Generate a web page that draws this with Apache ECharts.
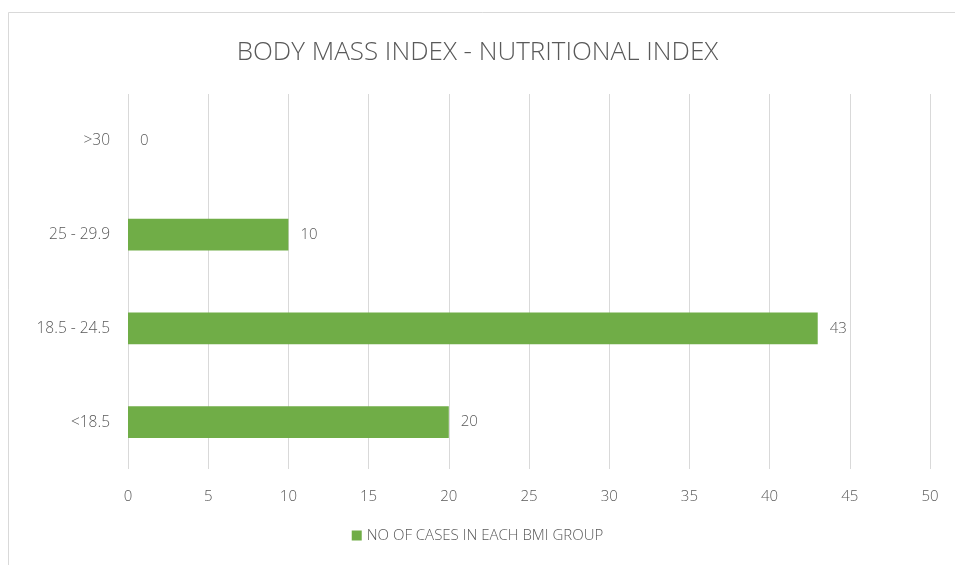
<!DOCTYPE html>
<html>
<head>
<meta charset="utf-8">
<script src="https://cdn.jsdelivr.net/npm/echarts@6/dist/echarts.min.js"></script>
<style>
  html, body { margin: 0; padding: 0; background: #fff; }
  #chart { width: 955px; height: 565px; }
</style>
</head>
<body>
<div id="chart"></div>
<script>
// BMI groups, listed bottom to top
const categories = ['<18.5', '18.5 - 24.5', '25 - 29.9', '>30'];
const cases = [20, 43, 10, 0];
const seriesName = 'NO OF CASES IN EACH BMI GROUP';
const chartTitle = 'BODY MASS INDEX - NUTRITIONAL INDEX';

const textGrey = '#595959';
const fontFamily = '"Open Sans", "Noto Sans", sans-serif';

const chart = echarts.init(document.getElementById('chart'), null, { renderer: 'canvas' });

chart.setOption({
  backgroundColor: '#ffffff',
  animation: false,
  graphic: [{
    type: 'rect',
    shape: { x: 8.5, y: 12.5, width: 960, height: 560 },
    style: { fill: 'none', stroke: '#d9d9d9', lineWidth: 1 },
    silent: true
  }],
  title: {
    text: chartTitle,
    left: 'center',
    top: 35,
    textStyle: {
      color: textGrey,
      fontFamily: fontFamily,
      fontWeight: 300,
      fontSize: 26
    }
  },
  legend: {
    bottom: 17,
    left: 'center',
    itemWidth: 10,
    itemHeight: 10,
    itemGap: 5,
    icon: 'rect',
    textStyle: { color: textGrey, fontFamily: fontFamily, fontSize: 15, fontWeight: 300 },
    data: [seriesName]
  },
  grid: {
    left: 128,
    right: 25,
    top: 94,
    bottom: 96,
    containLabel: false
  },
  xAxis: {
    type: 'value',
    min: 0,
    max: 50,
    interval: 5,
    axisLine: { show: false },
    axisTick: { show: false },
    axisLabel: { color: textGrey, fontFamily: fontFamily, fontSize: 15, fontWeight: 300, margin: 20 },
    splitLine: { show: true, lineStyle: { color: '#d9d9d9', width: 1 } }
  },
  yAxis: {
    type: 'category',
    data: categories,
    axisLine: { show: false },
    axisTick: { show: false },
    axisLabel: { color: textGrey, fontFamily: fontFamily, fontSize: 15.5, fontWeight: 300, margin: 18 }
  },
  series: [{
    name: seriesName,
    type: 'bar',
    data: cases,
    barWidth: '34%',
    itemStyle: { color: '#70ad47' },
    label: {
      show: true,
      position: 'right',
      distance: 12,
      color: textGrey,
      fontFamily: fontFamily,
      fontSize: 15,
      fontWeight: 300
    }
  }]
});
</script>
</body>
</html>
